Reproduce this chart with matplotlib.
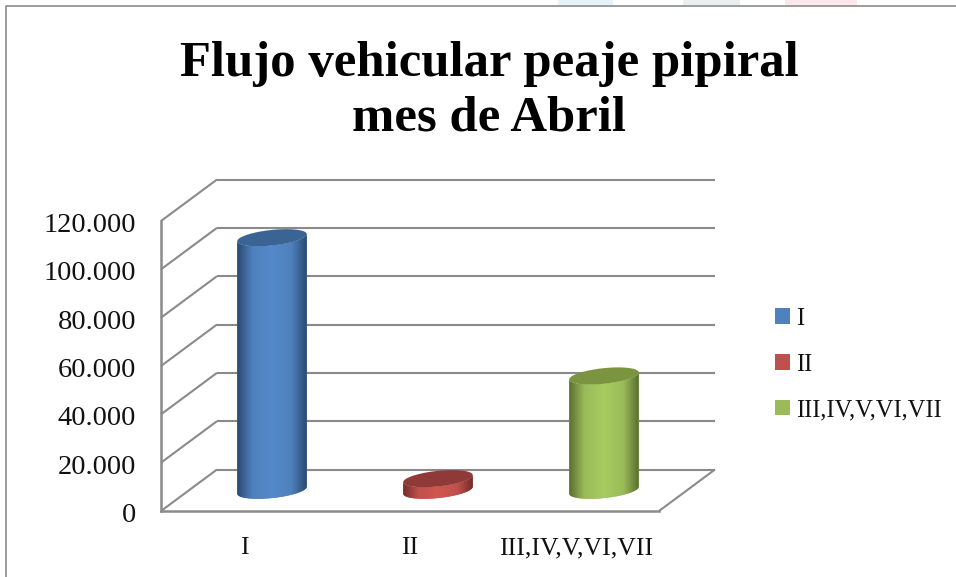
import numpy as np
import matplotlib
matplotlib.use("Agg")
import matplotlib.pyplot as plt
from matplotlib.colors import LinearSegmentedColormap
from matplotlib.patches import Patch, PathPatch, Rectangle
from matplotlib.path import Path
from matplotlib.transforms import ScaledTranslation

categories = ["I", "II", "III,IV,V,VI,VII"]
values = [104500, 4800, 47300]
y_ticks = [0, 20000, 40000, 60000, 80000, 100000, 120000]
y_tick_labels = ["0", "20.000", "40.000", "60.000", "80.000", "100.000", "120.000"]
title_text = "Flujo vehicular peaje pipiral\nmes de Abril"
face_colors = ["#4f81bd", "#c0504d", "#9bbb59"]
edge_colors = ["#2b4a70", "#742d2b", "#5a7030"]
mid_colors = ["#5489cb", "#d0574f", "#a8cc60"]
top_colors = ["#3a6494", "#8f3a38", "#7a9440"]

W, H = 956, 577
FONT = "Liberation Serif"
GREY = "#8a8a8a"
fig = plt.figure(figsize=(W / 100, H / 100), dpi=100, facecolor="white")

# outer frame and cropped page fragments
for x0, x1, c in [(558, 613, "#e6f3fa"), (683, 740, "#e9efef"), (785, 857, "#fbe8ec")]:
    fig.add_artist(Rectangle((x0 / W, 1 - 5 / H), (x1 - x0) / W, 5 / H, transform=fig.transFigure,
                             facecolor=c, edgecolor="none"))
fig.add_artist(plt.Line2D([5.5 / W, 5.5 / W, 1], [0, 1 - 5.5 / H, 1 - 5.5 / H], transform=fig.transFigure,
                          color=GREY, lw=1.2))

# axes = front plane of the oblique box
left, right, bottom, top = 161, 659, 511, 221
ax = fig.add_axes([left / W, 1 - bottom / H, (right - left) / W, (bottom - top) / H])
ax.set_facecolor("none")
xmin, xmax, ymin, ymax = -0.5, 2.5, 0, 120000
ppx = (xmax - xmin) / (right - left)
vpx = (ymax - ymin) / (bottom - top)
dx_depth = 56 * ppx
dy_depth = 41.5 * vpx


def proj(x, v, d):
    return x + d * dx_depth, v + d * dy_depth


# walls / floor
line_kw = dict(color=GREY, lw=1.5, clip_on=False, zorder=1, solid_capstyle="butt")
for v in y_ticks:
    bx0, by0 = proj(xmin, v, 1)
    bx1, by1 = proj(xmax, v, 1)
    ax.plot([bx0, bx1], [by0, by1], **line_kw)
    ax.plot([xmin, bx0], [v, by0], **line_kw)
fx, fy = proj(xmax, 0, 1)
ax.plot([xmax, fx], [0, fy], **line_kw)

# cylinders
half_w = 0.2095
shear = 3.5 * vpx
semi = 7.8 * vpx
t = np.linspace(0, 2 * np.pi, 121)
for i, val in enumerate(values):
    cx, base = proj(i, 0, 0.5)
    cx, vtop = proj(i, val, 0.5)
    ex = half_w * np.cos(t)
    ey = shear * np.cos(t) + semi * np.sin(t)
    lower = (t >= np.pi)
    # body: lower arc of base, then lower arc of top reversed
    px = np.r_[cx + ex[lower], (cx + ex[lower])[::-1]]
    py = np.r_[base + ey[lower], (vtop + ey[lower])[::-1]]
    body = PathPatch(Path(np.c_[px, py]), facecolor=face_colors[i], edgecolor="none", zorder=3, clip_on=False)
    ax.add_patch(body)
    cmap = LinearSegmentedColormap.from_list(
        "g", [(0, edge_colors[i]), (0.22, face_colors[i]), (0.5, mid_colors[i]),
              (0.78, face_colors[i]), (1, edge_colors[i])])
    im = ax.imshow(np.linspace(0, 1, 128)[None, :], cmap=cmap, aspect="auto", zorder=3.1,
                   extent=(cx - half_w, cx + half_w, base - semi * 1.5, vtop + semi * 1.5))
    im.set_clip_path(body)
    ax.fill(cx + ex, vtop + ey, facecolor=top_colors[i], edgecolor="none", zorder=3.2, clip_on=False)

ax.set_xlim(xmin, xmax)
ax.set_ylim(ymin, ymax)
ax.set_xticks(range(len(categories)), categories, fontfamily=FONT, fontsize=18.5)
ax.set_yticks(y_ticks, y_tick_labels, fontfamily=FONT, fontsize=20.5)
ax.tick_params(axis="x", length=0, pad=19, colors="#111111")
ax.tick_params(axis="y", length=0, pad=18, colors="#111111")
down = ScaledTranslation(0, -1.5 / 100, fig.dpi_scale_trans)
for lab in ax.get_yticklabels():
    lab.set_transform(lab.get_transform() + down)
for s in ["top", "right"]:
    ax.spines[s].set_visible(False)
for s in ["left", "bottom"]:
    ax.spines[s].set_color(GREY)
    ax.spines[s].set_linewidth(1.8)

fig.text(489 / W, 1 - 91.5 / H, title_text, ha="center", va="center", fontfamily=FONT, fontweight="bold",
         fontsize=36.5, linespacing=1.23, color="black")

handles = [Patch(facecolor=c, edgecolor="none") for c in face_colors]
fig.legend(handles, categories, loc="upper left", bbox_to_anchor=(775 / W, 1 - 308 / H), frameon=False,
           prop={"family": FONT, "size": 17.7}, handlelength=0.61, handleheight=0.61, handletextpad=0.25,
           labelspacing=0.96, borderpad=0, borderaxespad=0, labelcolor="#111111")

fig.savefig("out.png", dpi=100)
